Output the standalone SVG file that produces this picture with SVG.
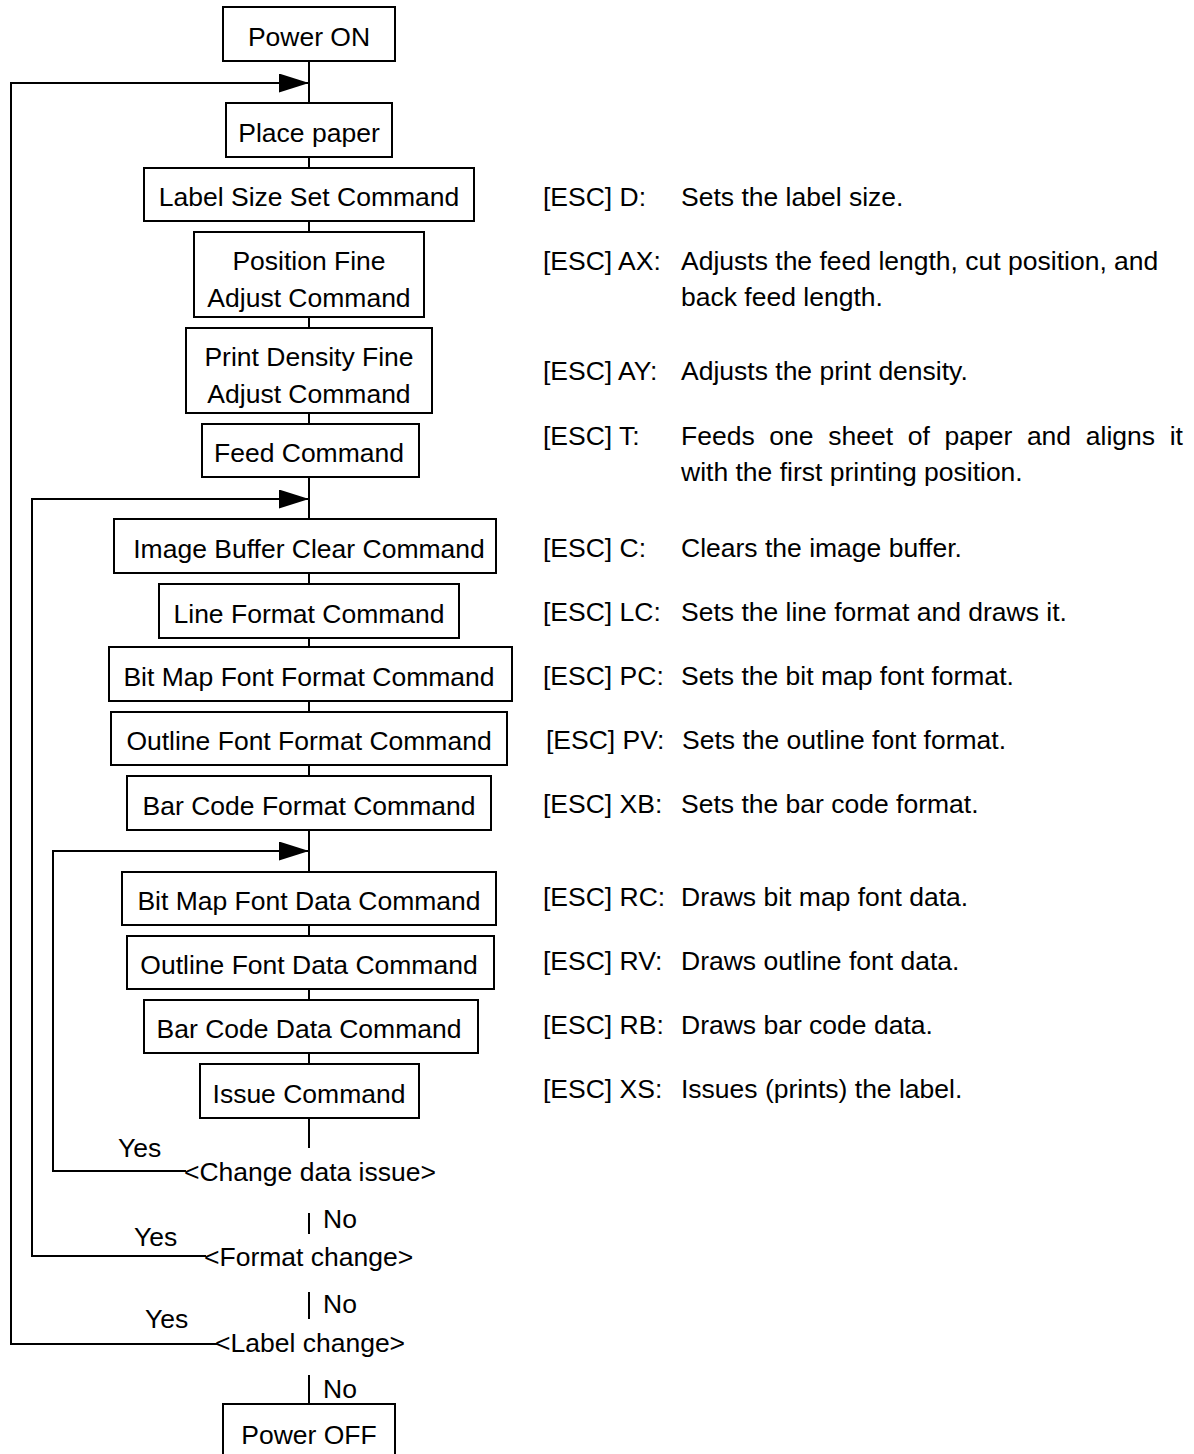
<svg xmlns="http://www.w3.org/2000/svg" width="1194" height="1454" viewBox="0 0 1194 1454">
<defs>
<style>
.box{fill:#fff;stroke:#000;stroke-width:2}
.ln{fill:none;stroke:#000;stroke-width:2}
text{font-family:"Liberation Sans",Arial,sans-serif;font-size:26.5px;fill:#000}
.c{text-anchor:middle}
</style>
<marker id="ah" markerUnits="userSpaceOnUse" markerWidth="30" markerHeight="19" viewBox="0 0 30 19" refX="30" refY="9.5" orient="auto">
<path d="M0,0 L30,9.5 L0,19 z" fill="#000"/>
</marker>
</defs>
<rect width="1194" height="1454" fill="#fff"/>

<g id="connectors">
<path class="ln" d="M309,61 V103"/>
<path class="ln" d="M309,157 V168"/>
<path class="ln" d="M309,221 V232"/>
<path class="ln" d="M309,317 V328"/>
<path class="ln" d="M309,413 V424"/>
<path class="ln" d="M309,477 V519"/>
<path class="ln" d="M309,573 V584"/>
<path class="ln" d="M309,638 V647"/>
<path class="ln" d="M309,701 V712"/>
<path class="ln" d="M309,765 V776"/>
<path class="ln" d="M309,830 V872"/>
<path class="ln" d="M309,925 V936"/>
<path class="ln" d="M309,989 V1000"/>
<path class="ln" d="M309,1053 V1064"/>
<path class="ln" d="M309,1118 V1148"/>
<path class="ln" d="M309,1213 V1234"/>
<path class="ln" d="M309,1292 V1319"/>
<path class="ln" d="M309,1375 V1404"/>
<path class="ln" d="M186,1171 H53 V851 H309" marker-end="url(#ah)"/>
<path class="ln" d="M206,1256 H32 V499 H309" marker-end="url(#ah)"/>
<path class="ln" d="M217,1344 H11 V83 H309" marker-end="url(#ah)"/>
</g>

<g id="n-power-on"><rect class="box" x="223" y="7" width="172" height="54"/><text class="c" x="309" y="45.5">Power ON</text></g>
<g id="n-place-paper"><rect class="box" x="226" y="103" width="166" height="54"/><text class="c" x="309" y="141.5">Place paper</text></g>
<g id="n-label-size"><rect class="box" x="144" y="168" width="330" height="53"/><text class="c" x="309" y="206">Label Size Set Command</text></g>
<g id="n-position-fine"><rect class="box" x="194" y="232" width="230" height="85"/><text class="c" x="309" y="270">Position Fine</text><text class="c" x="309" y="307">Adjust Command</text></g>
<g id="n-print-density"><rect class="box" x="186" y="328" width="246" height="85"/><text class="c" x="309" y="366">Print Density Fine</text><text class="c" x="309" y="403">Adjust Command</text></g>
<g id="n-feed"><rect class="box" x="202" y="424" width="217" height="53"/><text class="c" x="309" y="462">Feed Command</text></g>
<g id="n-image-buffer"><rect class="box" x="114" y="519" width="382" height="54"/><text class="c" x="309" y="558">Image Buffer Clear Command</text></g>
<g id="n-line-format"><rect class="box" x="159" y="584" width="300" height="54"/><text class="c" x="309" y="622.5">Line Format Command</text></g>
<g id="n-bitmap-format"><rect class="box" x="109" y="647" width="403" height="54"/><text class="c" x="309" y="685.5">Bit Map Font Format Command</text></g>
<g id="n-outline-format"><rect class="box" x="111" y="712" width="396" height="53"/><text class="c" x="309" y="750">Outline Font Format Command</text></g>
<g id="n-barcode-format"><rect class="box" x="127" y="776" width="364" height="54"/><text class="c" x="309" y="814.5">Bar Code Format Command</text></g>
<g id="n-bitmap-data"><rect class="box" x="122" y="872" width="374" height="53"/><text class="c" x="309" y="910">Bit Map Font Data Command</text></g>
<g id="n-outline-data"><rect class="box" x="127" y="936" width="367" height="53"/><text class="c" x="309" y="974">Outline Font Data Command</text></g>
<g id="n-barcode-data"><rect class="box" x="144" y="1000" width="334" height="53"/><text class="c" x="309" y="1038">Bar Code Data Command</text></g>
<g id="n-issue"><rect class="box" x="200" y="1064" width="219" height="54"/><text class="c" x="309" y="1102.5">Issue Command</text></g>
<g id="n-power-off"><rect class="box" x="223" y="1404" width="172" height="56"/><text class="c" x="309" y="1444">Power OFF</text></g>

<g id="d-change-data"><text x="184" y="1181">&lt;Change data issue&gt;</text><text x="118" y="1157">Yes</text><text x="323" y="1228">No</text></g>
<g id="d-format-change"><text x="204" y="1266">&lt;Format change&gt;</text><text x="134" y="1246">Yes</text><text x="323" y="1313">No</text></g>
<g id="d-label-change"><text x="215" y="1352">&lt;Label change&gt;</text><text x="145" y="1328">Yes</text><text x="323" y="1398">No</text></g>

<g id="notes">
<text x="543" y="206">[ESC] D:</text><text x="681" y="206">Sets the label size.</text>
<text x="543" y="270">[ESC] AX:</text><text x="681" y="270">Adjusts the feed length, cut position, and</text>
<text x="681" y="306">back feed length.</text>
<text x="543" y="380">[ESC] AY:</text><text x="681" y="380">Adjusts the print density.</text>
<text x="543" y="445">[ESC] T:</text><text x="681" y="445" word-spacing="7.3">Feeds one sheet of paper and aligns it</text>
<text x="681" y="481">with the first printing position.</text>
<text x="543" y="557">[ESC] C:</text><text x="681" y="557">Clears the image buffer.</text>
<text x="543" y="621">[ESC] LC:</text><text x="681" y="621">Sets the line format and draws it.</text>
<text x="543" y="685">[ESC] PC:</text><text x="681" y="685">Sets the bit map font format.</text>
<text x="546" y="749">[ESC] PV:</text><text x="682" y="749">Sets the outline font format.</text>
<text x="543" y="813">[ESC] XB:</text><text x="681" y="813">Sets the bar code format.</text>
<text x="543" y="906">[ESC] RC:</text><text x="681" y="906">Draws bit map font data.</text>
<text x="543" y="970">[ESC] RV:</text><text x="681" y="970">Draws outline font data.</text>
<text x="543" y="1034">[ESC] RB:</text><text x="681" y="1034">Draws bar code data.</text>
<text x="543" y="1098">[ESC] XS:</text><text x="681" y="1098">Issues (prints) the label.</text>
</g>
</svg>
